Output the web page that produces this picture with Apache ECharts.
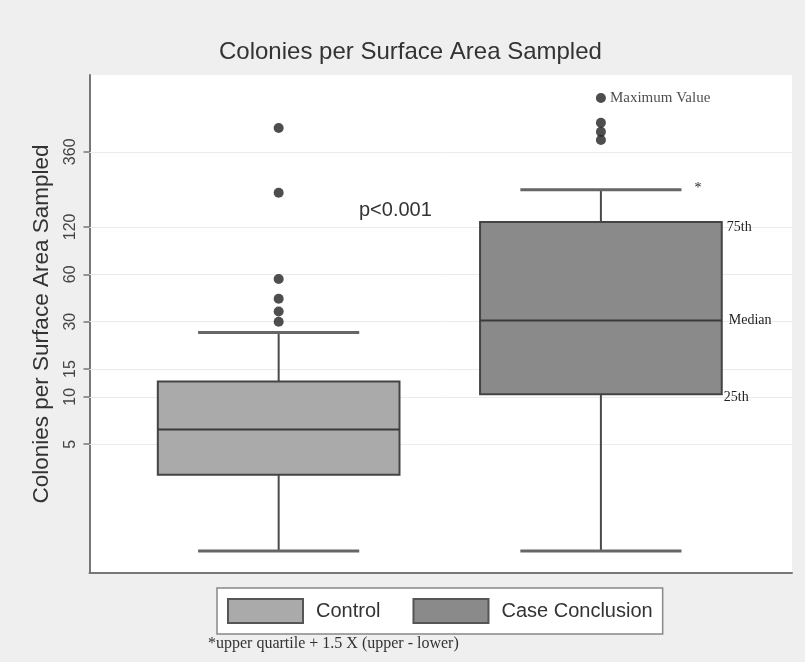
<!DOCTYPE html>
<html>
<head>
<meta charset="utf-8">
<script src="https://cdn.jsdelivr.net/npm/echarts@6/dist/echarts.min.js"></script>
<style>
html,body{margin:0;padding:0;background:#efefef;}
#chart{width:805px;height:662px;}
</style>
</head>
<body>
<div id="chart"></div>
<script>
// ---- data ----
const categories = ['Control', 'Case Conclusion'];
const positions = [1, 2];
const lowWhisker = [1.05, 1.05];
const q1 = [3.2, 10.4];
const median = [6.2, 30.5];
const q3 = [12.5, 129];
const highWhisker = [25.6, 207];
const controlOutliers = [30, 34.8, 42, 56, 198, 510];
const caseOutliers = [428, 482, 550, 791];
const tickValues = [5, 10, 15, 30, 60, 120, 360];
const caseBoxLabels = ['25th', 'Median', '75th'];

const fills = ['#aaaaaa', '#8a8a8a'];
const boxWidthUnits = 0.75;

function renderBox(params, api) {
  const x = api.value(0);
  const lo = api.value(1), a = api.value(2), m = api.value(3), b = api.value(4), hi = api.value(5);
  const w = api.size([boxWidthUnits, 0])[0];
  const cw = w * 2 / 3;
  const pLo = api.coord([x, lo]), pA = api.coord([x, a]), pM = api.coord([x, m]),
        pB = api.coord([x, b]), pHi = api.coord([x, hi]);
  const cx = pA[0];
  const line = '#4a4a4a';
  const children = [
    {type: 'line', shape: {x1: cx, y1: pB[1], x2: cx, y2: pHi[1]}, style: {stroke: line, lineWidth: 2}},
    {type: 'line', shape: {x1: cx, y1: pA[1], x2: cx, y2: pLo[1]}, style: {stroke: line, lineWidth: 2}},
    {type: 'line', shape: {x1: cx - cw / 2, y1: pHi[1], x2: cx + cw / 2, y2: pHi[1]}, style: {stroke: '#666', lineWidth: 3}},
    {type: 'line', shape: {x1: cx - cw / 2, y1: pLo[1], x2: cx + cw / 2, y2: pLo[1]}, style: {stroke: '#666', lineWidth: 3}},
    {type: 'rect', shape: {x: cx - w / 2, y: pB[1], width: w, height: pA[1] - pB[1]},
      style: {fill: fills[params.dataIndex], stroke: '#444', lineWidth: 2}},
    {type: 'line', shape: {x1: cx - w / 2, y1: pM[1], x2: cx + w / 2, y2: pM[1]}, style: {stroke: '#3a3a3a', lineWidth: 2}}
  ];
  if (params.dataIndex === 1) {
    const txt = {fill: '#222', fontFamily: 'Liberation Serif', fontSize: 14, verticalAlign: 'middle'};
    children.push({type: 'text', x: cx + w / 2 + 2, y: pA[1] + 3, style: Object.assign({text: caseBoxLabels[0]}, txt)});
    children.push({type: 'text', x: cx + w / 2 + 7, y: pM[1], style: Object.assign({text: caseBoxLabels[1]}, txt)});
    children.push({type: 'text', x: cx + w / 2 + 5, y: pB[1] + 5, style: Object.assign({text: caseBoxLabels[2]}, txt)});
    children.push({type: 'text', x: cx + cw / 2 + 13, y: pHi[1] - 1, style: Object.assign({text: '*'}, txt)});
  }
  return {type: 'group', children: children};
}

const boxData = positions.map((p, i) => [p, lowWhisker[i], q1[i], median[i], q3[i], highWhisker[i]]);
const maxCase = Math.max.apply(null, caseOutliers);

const chart = echarts.init(document.getElementById('chart'));
chart.setOption({
  backgroundColor: '#efefef',
  animation: false,
  title: {
    text: 'Colonies per Surface Area Sampled',
    left: 214, top: 35,
    textStyle: {fontFamily: 'Liberation Sans', fontSize: 24, fontWeight: 'normal', color: '#333'}
  },
  legend: {
    left: 217, top: 588,
    data: categories,
    icon: 'rect', itemWidth: 75, itemHeight: 24, itemGap: 32,
    backgroundColor: '#fff', borderColor: '#888', borderWidth: 1.5,
    padding: [10, 10, 10, 10],
    textStyle: {fontFamily: 'Liberation Sans', fontSize: 20, color: '#333', padding: [0, 0, 0, 8]},
    selectedMode: false
  },
  grid: {left: 89.5, right: 13, top: 75, bottom: 89, show: true, backgroundColor: '#fff', borderWidth: 0},
  xAxis: {
    type: 'value', min: 0.413, max: 2.593,
    axisLine: {show: true, lineStyle: {color: '#777', width: 2}},
    axisTick: {show: false}, axisLabel: {show: false}, splitLine: {show: false}
  },
  yAxis: {
    type: 'log', logBase: 10, min: 0.76, max: 1107,
    name: 'Colonies per Surface Area Sampled',
    nameLocation: 'middle', nameGap: 36, nameRotate: 90,
    nameTextStyle: {fontFamily: 'Liberation Sans', fontSize: 22.5, color: '#333'},
    axisLine: {show: true, lineStyle: {color: '#777', width: 2}},
    axisTick: {show: true, length: 6, customValues: tickValues, lineStyle: {color: '#777', width: 1.5}},
    axisLabel: {customValues: tickValues, rotate: 90, margin: 11, fontFamily: 'Liberation Sans', fontSize: 16, color: '#444'},
    splitLine: {show: false}
  },
  graphic: [
    {type: 'text', left: 359, top: 200, style: {text: 'p<0.001', fontFamily: 'Liberation Sans', fontSize: 20, fill: '#333'}},
    {type: 'text', left: 208, top: 636, style: {text: '*upper quartile + 1.5 X (upper - lower)', fontFamily: 'Liberation Serif', fontSize: 16, fill: '#333'}}
  ],
  series: [
    {
      type: 'line', data: [], z: 1, silent: true,
      markLine: {
        z: 1, silent: true, symbol: 'none', label: {show: false},
        lineStyle: {color: '#ebebeb', type: 'solid', width: 1},
        data: tickValues.map(v => ({yAxis: v}))
      }
    },
    {
      name: categories[0], type: 'custom', z: 3,
      itemStyle: {color: fills[0], borderColor: '#555', borderWidth: 1},
      renderItem: renderBox,
      encode: {x: 0, y: [1, 2, 3, 4, 5]},
      data: [boxData[0]]
    },
    {
      name: categories[1], type: 'custom', z: 3,
      itemStyle: {color: fills[1], borderColor: '#555', borderWidth: 1},
      renderItem: function (params, api) { return renderBox({dataIndex: 1}, api); },
      encode: {x: 0, y: [1, 2, 3, 4, 5]},
      data: [boxData[1]]
    },
    {
      type: 'scatter', z: 4, symbolSize: 10, itemStyle: {color: '#222'},
      data: controlOutliers.map(v => [positions[0], v])
    },
    {
      type: 'scatter', z: 4, symbolSize: 10, itemStyle: {color: '#222'},
      data: caseOutliers.map(v => v === maxCase
        ? {value: [positions[1], v], label: {show: true, position: 'right', distance: 4, formatter: 'Maximum Value',
            fontFamily: 'Liberation Serif', fontSize: 15, color: '#222'}}
        : [positions[1], v])
    }
  ]
});
</script>
</body>
</html>
